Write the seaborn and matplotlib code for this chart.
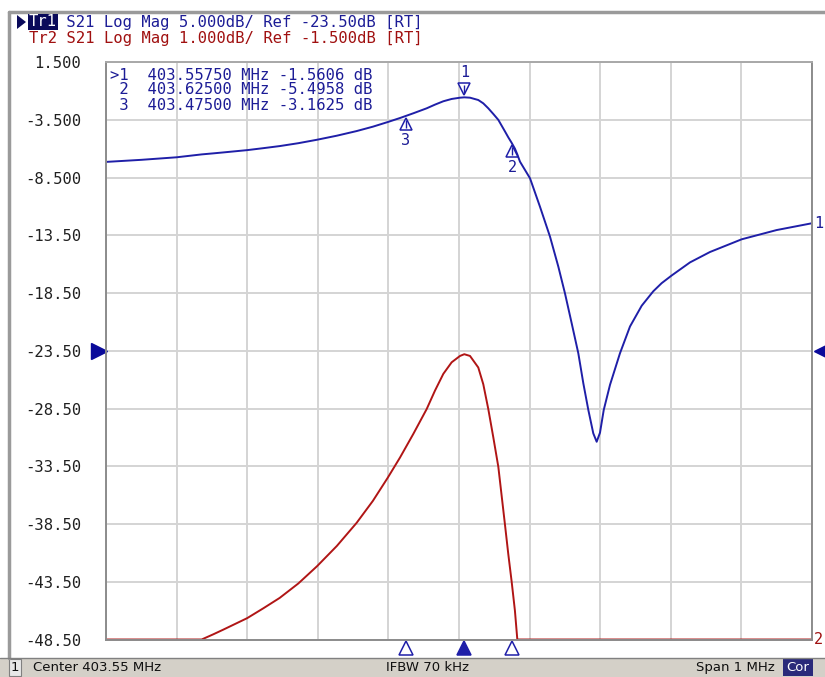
import numpy as np
import matplotlib
matplotlib.use("Agg")
import matplotlib.pyplot as plt
import seaborn as sns
from matplotlib.patches import Rectangle, Polygon
from matplotlib.lines import Line2D
import matplotlib.transforms as mtransforms

# S21 sweep (MHz, dB)
freq_mhz = [403.050, 403.100, 403.150, 403.1855, 403.202, 403.216, 403.250, 403.2728,
            403.296, 403.3224, 403.349, 403.377, 403.405, 403.428, 403.449, 403.4664,
            403.4853, 403.5042, 403.516, 403.5278, 403.5396, 403.5514, 403.5575, 403.5656,
            403.5773, 403.5844, 403.5915, 403.5986, 403.6057, 403.6104, 403.6151, 403.6198,
            403.6246, 403.6292, 403.6326, 403.6364, 403.6506, 403.6647, 403.6789, 403.6907,
            403.7001, 403.7096, 403.7190, 403.7261, 403.7332, 403.7402, 403.7450, 403.7497,
            403.7550, 403.7639, 403.7780, 403.7922, 403.8088, 403.8252, 403.8370, 403.8513,
            403.8772, 403.9055, 403.9504, 403.9999, 404.050]
s21_db = [-7.15, -6.97, -6.75, -6.50, -6.41, -6.33, -6.13, -5.96,
          -5.78, -5.53, -5.23, -4.88, -4.48, -4.10, -3.70, -3.35,
          -2.94, -2.51, -2.19, -1.90, -1.70, -1.59, -1.56, -1.59,
          -1.79, -2.08, -2.51, -3.00, -3.51, -4.01, -4.51, -5.02,
          -5.50, -6.00, -6.50, -7.13, -8.57, -11.03, -13.62, -16.22,
          -18.53, -21.12, -23.72, -26.32, -28.63, -30.65, -31.38, -30.60,
          -28.63, -26.45, -23.72, -21.40, -19.60, -18.35, -17.65, -16.98,
          -15.85, -14.95, -13.85, -13.05, -12.46]

# marker table
marker_ids = ["1", "2", "3"]
marker_freq = [403.5575, 403.625, 403.475]
marker_db = [-1.5606, -5.4958, -3.1625]

# channel settings
center_mhz = 403.55
span_mhz = 1.0
tr1_scale, tr1_ref = 5.0, -23.5
tr2_scale, tr2_ref = 1.0, -1.5
n_div = 10
ytick_labels = ["1.500", "-3.500", "-8.500", "-13.50", "-18.50", "-23.50",
                "-28.50", "-33.50", "-38.50", "-43.50", "-48.50"]

BLUE = "#1f1fa8"
RED = "#b01515"
TXT_BLUE = "#1c1c96"
TXT_RED = "#a01010"
NAVY = "#0a0a5a"
MONO = "DejaVu Sans Mono"
FS = 11.2
CHAR_PX = FS * 100 / 72 * 0.602  # advance of one monospace character

sns.set_style("white")
plt.rcParams["font.family"] = ["DejaVu Sans"]

W, H = 825, 677
fig = plt.figure(figsize=(W / 100, H / 100), dpi=100)
fig.patch.set_facecolor("white")

L, R, T, B = 106, 812, 62, 639.5
ax = fig.add_axes([L / W, 1 - B / H, (R - L) / W, (B - T) / H])

f = np.array(freq_mhz)
v = np.array(s21_db)
y_top = tr1_ref + tr1_scale * n_div / 2
y_bot = tr1_ref - tr1_scale * n_div / 2
# Tr2: same S21 on 1 dB/div, mapped onto the Tr1 graticule and clipped at the edge
tr2 = np.clip(tr1_ref + (v - tr2_ref) * tr1_scale / tr2_scale, y_bot, y_top)

sns.lineplot(x=f, y=tr2, ax=ax, color=RED, lw=1.4, estimator=None, sort=False, clip_on=False)
sns.lineplot(x=f, y=v, ax=ax, color=BLUE, lw=1.4, estimator=None, sort=False)

x0 = center_mhz - span_mhz / 2
x1 = center_mhz + span_mhz / 2
ax.set_xlim(x0, x1)
ax.set_ylim(y_bot, y_top)
ax.set_xticks(np.linspace(x0, x1, n_div + 1))
ax.set_yticks(np.linspace(y_top, y_bot, n_div + 1))
ax.set_xticklabels([])
ax.set_yticklabels(ytick_labels, fontfamily=MONO, fontsize=FS, color="#202020")
ax.tick_params(axis="both", length=0, pad=18)
ax.grid(True, color="#d4d4d4", lw=1.4)
ax.set_xlabel("")
ax.set_ylabel("")
for name, sp in ax.spines.items():
    sp.set_visible(True)
    sp.set_linewidth(1.4)
    sp.set_color("#8c8c8c" if name in ("left", "right", "bottom") else "#a8a8a8")

# markers on the trace
offset_up = mtransforms.offset_copy(ax.transData, fig=fig, x=0, y=8, units="dots")
offset_dn = mtransforms.offset_copy(ax.transData, fig=fig, x=0, y=-8, units="dots")
for mid, mf, mv in zip(marker_ids, marker_freq, marker_db):
    if mid == "1":
        ax.plot([mf], [mv], marker="v", ms=9, mfc="white", mec=BLUE, mew=1.1,
                transform=offset_up, clip_on=False)
        ax.plot([mf], [mv], marker="|", ms=6, mec=BLUE, mew=1.0, transform=offset_up, clip_on=False)
        ax.annotate(mid, (mf, mv), xytext=(0, 17), textcoords="offset pixels", ha="center",
                    va="bottom", fontfamily=MONO, fontsize=11, color=TXT_BLUE)
    else:
        ax.plot([mf], [mv], marker="^", ms=9, mfc="white", mec=BLUE, mew=1.1,
                transform=offset_dn, clip_on=False)
        ax.plot([mf], [mv], marker="|", ms=6, mec=BLUE, mew=1.0, transform=offset_dn, clip_on=False)
        ax.annotate(mid, (mf, mv), xytext=(0, -17), textcoords="offset pixels", ha="center",
                    va="top", fontfamily=MONO, fontsize=11, color=TXT_BLUE)

# marker position indicators under the graticule
btrans = mtransforms.blended_transform_factory(ax.transData, ax.transAxes)
for mid, mf in zip(marker_ids, marker_freq):
    ax.plot([mf], [-0.0155], marker="^", ms=10, transform=btrans, clip_on=False,
            mfc=BLUE if mid == "1" else "white", mec=BLUE, mew=1.1)

# reference level arrows and trace numbers
rtrans = mtransforms.blended_transform_factory(ax.transAxes, ax.transData)
ax.plot([-0.0095], [tr1_ref], marker=">", ms=11, color="#0a0a9a", transform=rtrans, clip_on=False)
ax.plot([1.0135], [tr1_ref], marker="<", ms=11, color="#0a0a9a", transform=rtrans, clip_on=False)
ax.text(1.003, v[-1], "1", transform=rtrans, ha="left", va="center",
        fontfamily=MONO, fontsize=11, color=TXT_BLUE)
ax.text(1.003, tr2[-1], "2", transform=rtrans, ha="left", va="center",
        fontfamily=MONO, fontsize=11, color=TXT_RED)

# marker readout table
for i, (mid, mf, mv) in enumerate(zip(marker_ids, marker_freq, marker_db)):
    lead = ">" if i == 0 else " "
    row = f"{lead}{mid}  {mf:.5f} MHz {mv:.4f} dB"
    fig.text(110 / W, 1 - (75 + 15 * i) / H, row, ha="left", va="center",
             fontfamily=MONO, fontsize=FS, color=TXT_BLUE)

# header lines
hdr1 = f" S21 Log Mag {tr1_scale:.3f}dB/ Ref {tr1_ref:.2f}dB [RT]"
hdr2 = f"Tr2 S21 Log Mag {tr2_scale:.3f}dB/ Ref {tr2_ref:.3f}dB [RT]"
fig.text(29 / W, 1 - 22 / H, "Tr1", ha="left", va="center", fontfamily=MONO,
         fontsize=FS, color="white",
         bbox=dict(boxstyle="square,pad=0.05", fc=NAVY, ec="none"))
fig.text((29 + 3 * CHAR_PX) / W, 1 - 22 / H, hdr1, ha="left", va="center", fontfamily=MONO,
         fontsize=FS, color=TXT_BLUE)
fig.text(29 / W, 1 - 38 / H, hdr2, ha="left", va="center", fontfamily=MONO,
         fontsize=FS, color=TXT_RED)
fig.add_artist(Polygon([[17 / W, 1 - 15 / H], [17 / W, 1 - 29 / H], [26 / W, 1 - 22 / H]],
                       closed=True, fc=NAVY, ec="none", transform=fig.transFigure))

# window frame
fig.add_artist(Line2D([9 / W, 1], [1 - 12 / H, 1 - 12 / H], color="#9a9a9a", lw=2.5))
fig.add_artist(Line2D([9 / W, 9 / W], [1 - 12 / H, 19 / H], color="#9a9a9a", lw=2.5))

# status bar
fig.add_artist(Rectangle((0, 0), 1, 19 / H, transform=fig.transFigure,
                         fc="#d4d0c8", ec="none"))
fig.add_artist(Line2D([0, 1], [19 / H, 19 / H], color="#808080", lw=1))
fig.add_artist(Rectangle((9 / W, 1 / H), 12 / W, 17 / H, transform=fig.transFigure,
                         fc="#e8e8e8", ec="#808080", lw=0.8))
fig.text(15 / W, 9.5 / H, "1", ha="center", va="center", fontsize=9.5, color="#101010")
fig.text(33 / W, 9.5 / H, f"Center {center_mhz:.2f} MHz", ha="left", va="center",
         fontsize=9.5, color="#101010")
fig.text(427 / W, 9.5 / H, "IFBW 70 kHz", ha="center", va="center", fontsize=9.5, color="#101010")
fig.text(775 / W, 9.5 / H, f"Span {span_mhz:g} MHz", ha="right", va="center",
         fontsize=9.5, color="#101010")
fig.add_artist(Rectangle((783 / W, 1 / H), 30 / W, 17 / H, transform=fig.transFigure,
                         fc="#2a2a7a", ec="none"))
fig.text(798 / W, 9.5 / H, "Cor", ha="center", va="center", fontsize=9.5, color="white")

fig.savefig("out.png", dpi=100)
